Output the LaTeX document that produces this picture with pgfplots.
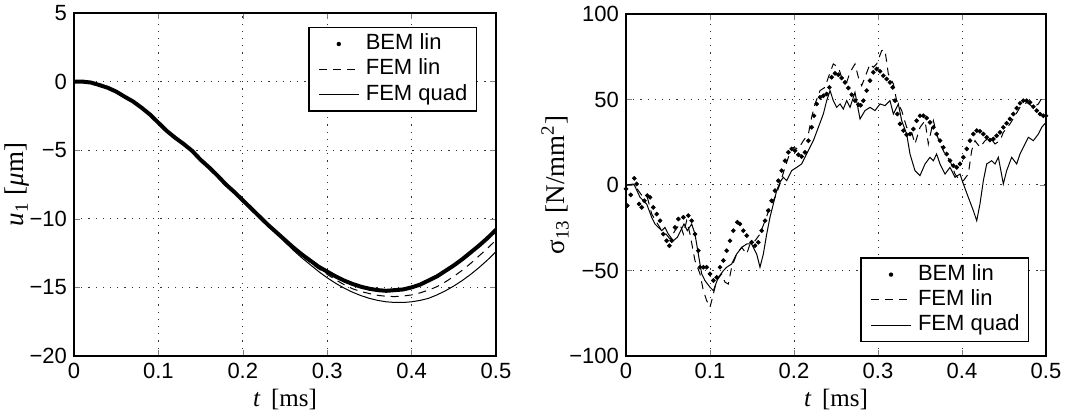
\documentclass[border=0pt]{standalone}
\usepackage{fontspec}
\setmainfont{Liberation Serif}
\setsansfont{Liberation Sans}
\usepackage{pgfplots}
\pgfplotsset{compat=1.18}

\pgfplotsset{
  mystyle/.style={
    scale only axis,
    width=211pt, height=171.5pt,
    xmin=0, xmax=0.5,
    xtick={0,0.1,0.2,0.3,0.4,0.5},
    xticklabels={0,0.1,0.2,0.3,0.4,0.5},
    tick align=inside,
    major tick length=3pt,
    axis line style={line width=0.7pt},
    grid=major,
    grid style={black!80, line width=0.5pt, dash pattern=on 0.6pt off 3pt},
    ticklabel style={font=\sffamily\fontsize{11}{12}\selectfont},
    xlabel style={font=\fontsize{12.5}{14}\selectfont},
    ylabel style={font=\fontsize{13.5}{15}\selectfont},
    xlabel={\textit{t}\, [ms]},
    xlabel style={at={(axis description cs:0.5,0)}, anchor=center, yshift=-22pt},
    legend style={font=\sffamily\fontsize{11}{12}\selectfont,
      draw=black, line width=0.7pt, inner xsep=3pt, inner ysep=2pt,
      nodes={inner sep=1.5pt, text height=7.6pt, text depth=2pt},
      /tikz/every even column/.append style={column sep=0pt},
      cells={anchor=west}},
  },
  dotleg/.style={legend image code/.code={
      \path[draw=none] (0pt,0pt) (24pt,0pt);
      \fill[black, draw=none] (12pt,0pt) circle (1.1pt);}},
  lineleg/.style={legend image code/.code={
      \draw[##1] (2pt,0pt) -- (22pt,0pt);}},
}

\begin{document}
\begin{tikzpicture}
\begin{axis}[mystyle,
  at={(0pt,0pt)}, anchor=south west,
  ymin=-20, ymax=5,
  ytick={-20,-15,-10,-5,0,5},
  yticklabels={−20,−15,−10,−5,0,5},
  ylabel={\textit{u}\textsubscript{1} [\textit{μ}m]},
  ylabel style={at={(axis description cs:0,0.5)}, anchor=center, yshift=28.5pt},
  legend style={at={(axis description cs:0.955,0.96)}, anchor=north east},
]
% BEM lin (dense dots, drawn as a thick line)
\addplot[black, line width=2pt, dotleg] coordinates {
(0,0) (0.01,0) (0.02,-0.07) (0.03,-0.25) (0.04,-0.45) (0.05,-0.73)
(0.06,-1.1) (0.07,-1.45) (0.08,-1.9) (0.09,-2.4) (0.10,-3.0)
(0.11,-3.6) (0.12,-4.1) (0.13,-4.55) (0.14,-5.05) (0.15,-5.7)
(0.16,-6.25) (0.17,-6.85) (0.18,-7.5) (0.19,-8.05) (0.20,-8.65)
(0.21,-9.25) (0.22,-9.85) (0.23,-10.45) (0.24,-11.0) (0.25,-11.55)
(0.26,-12.1) (0.27,-12.6) (0.28,-13.05) (0.29,-13.5) (0.30,-13.85)
(0.31,-14.2) (0.32,-14.5) (0.33,-14.75) (0.34,-14.95) (0.35,-15.1)
(0.36,-15.2) (0.37,-15.25) (0.38,-15.2) (0.39,-15.15) (0.40,-15.0)
(0.41,-14.8) (0.42,-14.5) (0.43,-14.2) (0.44,-13.8) (0.45,-13.4)
(0.46,-12.95) (0.47,-12.45) (0.48,-11.95) (0.49,-11.4) (0.50,-10.8)
};
\addlegendentry{BEM lin}
% FEM lin
\addplot[black, line width=0.5pt, dash pattern=on 4pt off 3pt, lineleg] coordinates {
(0,0) (0.02,-0.07) (0.04,-0.45) (0.06,-1.1) (0.08,-1.9) (0.10,-3.0)
(0.12,-4.1) (0.14,-5.05) (0.16,-6.25) (0.18,-7.5) (0.20,-8.65)
(0.22,-9.85) (0.24,-11.02) (0.25,-11.6) (0.26,-12.2) (0.27,-12.7)
(0.28,-13.2) (0.29,-13.65) (0.30,-14.05) (0.31,-14.45) (0.32,-14.8)
(0.33,-15.1) (0.34,-15.3) (0.35,-15.45) (0.36,-15.58) (0.37,-15.65)
(0.38,-15.67) (0.39,-15.63) (0.40,-15.55) (0.41,-15.4) (0.42,-15.2)
(0.43,-14.95) (0.44,-14.6) (0.45,-14.2) (0.46,-13.75) (0.47,-13.25)
(0.48,-12.7) (0.49,-12.15) (0.50,-11.55)
};
\addlegendentry{FEM lin}
% FEM quad
\addplot[black, line width=0.5pt, lineleg] coordinates {
(0,0) (0.02,-0.07) (0.04,-0.45) (0.06,-1.1) (0.08,-1.9) (0.10,-3.0)
(0.12,-4.1) (0.14,-5.05) (0.16,-6.25) (0.18,-7.5) (0.20,-8.65)
(0.22,-9.85) (0.24,-11.05) (0.25,-11.7) (0.26,-12.3) (0.27,-12.85)
(0.28,-13.35) (0.29,-13.85) (0.30,-14.3) (0.31,-14.7) (0.32,-15.05)
(0.33,-15.35) (0.34,-15.6) (0.35,-15.8) (0.36,-15.95) (0.37,-16.05)
(0.38,-16.1) (0.39,-16.1) (0.40,-16.05) (0.41,-15.95) (0.42,-15.8)
(0.43,-15.55) (0.44,-15.25) (0.45,-14.9) (0.46,-14.5) (0.47,-14.05)
(0.48,-13.55) (0.49,-13.0) (0.50,-12.4)
};
\addlegendentry{FEM quad}
\end{axis}

\begin{axis}[mystyle,
  at={(276pt,0pt)}, anchor=south west,
  width=210pt, height=171pt,
  ymin=-100, ymax=100,
  ytick={-100,-50,0,50,100},
  yticklabels={−100,−50,0,50,100},
  ylabel={σ\textsubscript{13} [N/mm\textsuperscript{2}]},
  ylabel style={at={(axis description cs:0,0.5)}, anchor=center, yshift=35.5pt},
  legend style={at={(axis description cs:0.96,0.04)}, anchor=south east},
]
% BEM lin
\addplot[black, only marks, mark=*, mark size=0.95pt, dotleg] coordinates {
(0,-2.3) (0.0016,-12.1) (0.0056,-5.8) (0.0099,3.9) (0.0127,0.6)
(0.0155,-11.1) (0.0187,-13.1) (0.0218,-9.2) (0.0254,-6.2) (0.0286,-7.2)
(0.0325,-13.1) (0.0365,-17.0) (0.0405,-20.9) (0.0444,-28.7) (0.0484,-32.6)
(0.0516,-35.5) (0.0544,-32.6) (0.0583,-24.8) (0.0623,-19.9) (0.0683,-18.9)
(0.0742,-17.9) (0.0782,-20.9) (0.0821,-28.7) (0.0861,-38.4) (0.0881,-48.1)
(0.0921,-48.1) (0.0960,-48.1) (0.1000,-52.0) (0.1040,-55.9) (0.1079,-54.0)
(0.1119,-48.1) (0.1159,-44.2) (0.1198,-38.4) (0.1238,-32.6) (0.1278,-26.7)
(0.1325,-21.8) (0.1357,-22.8) (0.1397,-26.7) (0.1437,-29.6) (0.1496,-33.5)
(0.1536,-35.5) (0.1575,-33.5) (0.1615,-26.7) (0.1655,-20.9) (0.1694,-15.0)
(0.1734,-9.2) (0.1774,-3.3) (0.1813,2.5) (0.1853,8.4) (0.1893,14.2)
(0.1933,19.1) (0.1972,21.1) (0.2012,20.1) (0.2052,17.7) (0.2091,16.6)
(0.2131,19.1) (0.2171,25.9) (0.2210,33.7) (0.2238,40.5) (0.2270,47.4)
(0.2310,51.3) (0.2349,52.2) (0.2389,53.2) (0.2421,57.1) (0.2448,63.0)
(0.2488,65.3) (0.2528,64.5) (0.2567,62.6) (0.2607,60.0) (0.2647,56.7)
(0.2687,52.8) (0.2726,49.3) (0.2766,47.0) (0.2794,46.6) (0.2825,49.3)
(0.2865,55.2) (0.2905,61.0) (0.2944,65.9) (0.2984,67.8) (0.3024,66.5)
(0.3063,63.9) (0.3103,62.0) (0.3143,60.0) (0.3175,57.1) (0.3202,49.3)
(0.3230,41.5) (0.3262,35.7) (0.3302,31.8) (0.3341,29.4) (0.3381,29.8)
(0.3421,32.7) (0.3460,37.6) (0.3500,40.5) (0.3540,40.5) (0.3579,39.2)
(0.3619,36.6) (0.3659,33.7) (0.3698,29.8) (0.3738,25.9) (0.3778,22.0)
(0.3817,18.1) (0.3857,14.2) (0.3897,11.3) (0.3937,10.3) (0.3976,12.3)
(0.4016,16.2) (0.4056,21.1) (0.4095,25.9) (0.4135,29.8) (0.4175,31.8)
(0.4214,31.4) (0.4254,29.8) (0.4294,27.9) (0.4333,26.3) (0.4373,26.9)
(0.4413,28.8) (0.4452,30.8) (0.4492,33.7) (0.4532,36.1) (0.4571,38.6)
(0.4611,41.5) (0.4651,45.0) (0.4690,47.8) (0.4730,49.3) (0.4770,49.3)
(0.4810,48.3) (0.4849,45.8) (0.4889,43.5) (0.4929,41.5) (0.4968,40.5)
(0.5,40.5)
};
\addlegendentry{BEM lin}
% FEM lin
\addplot[black, line width=0.5pt, dash pattern=on 4pt off 3pt, lineleg] coordinates {
(0,0) (0.0099,0.6) (0.0147,-3.3) (0.0206,-7.2) (0.0254,-7.2) (0.0306,-17.0)
(0.0365,-21.8) (0.0425,-26.7) (0.0476,-28.7) (0.0524,-31.6) (0.0583,-26.7)
(0.0643,-22.8) (0.0683,-28.7) (0.0722,-20.9) (0.0762,-28.7) (0.0821,-44.2)
(0.0881,-52.0) (0.0921,-61.8) (0.0960,-67.6) (0.1000,-71.5) (0.1040,-63.7)
(0.1079,-55.9) (0.1139,-52.0) (0.1179,-56.9) (0.1218,-57.9) (0.1258,-48.1)
(0.1317,-40.4) (0.1377,-36.5) (0.1437,-40.4) (0.1476,-34.5) (0.1536,-32.6)
(0.1595,-28.7) (0.1655,-20.9) (0.1714,-13.1) (0.1774,-7.2) (0.1833,0.6)
(0.1893,10.3) (0.1933,16.2) (0.1992,22.0) (0.2052,21.1) (0.2111,25.9)
(0.2171,29.8) (0.2210,39.6) (0.2250,47.4) (0.2310,55.2) (0.2369,57.1)
(0.2409,63.0) (0.2468,70.8) (0.2528,68.8) (0.2567,63.0) (0.2627,60.0)
(0.2667,65.9) (0.2726,70.8) (0.2766,63.0) (0.2806,58.1) (0.2845,63.0)
(0.2905,70.8) (0.2944,68.8) (0.2984,70.8) (0.3044,78.6) (0.3083,78.9)
(0.3123,64.9) (0.3183,59.1) (0.3222,49.3) (0.3282,43.5) (0.3341,33.7)
(0.3401,30.8) (0.3440,24.0) (0.3500,33.7) (0.3560,37.6) (0.3599,24.0)
(0.3659,37.6) (0.3698,29.8) (0.3738,24.0) (0.3798,18.1) (0.3857,14.2)
(0.3917,6.4) (0.3976,2.5) (0.4016,2.5) (0.4075,6.4) (0.4115,20.1)
(0.4155,25.9) (0.4214,22.0) (0.4274,25.9) (0.4333,27.9) (0.4393,24.0)
(0.4452,25.9) (0.4492,30.8) (0.4571,35.7) (0.4631,40.5) (0.4690,45.4)
(0.4770,48.3) (0.4849,45.4) (0.4909,47.4) (0.4968,52.2) (0.5,53.2)
};
\addlegendentry{FEM lin}
% FEM quad
\addplot[black, line width=0.5pt, lineleg] coordinates {
(0,0) (0.0099,0) (0.0167,-7.2) (0.0246,-11.1) (0.0306,-18.9) (0.0345,-22.8)
(0.0385,-24.8) (0.0425,-26.7) (0.0464,-24.8) (0.0504,-28.7) (0.0563,-32.6)
(0.0611,-30.6) (0.0651,-26.7) (0.0690,-22.8) (0.0730,-26.7) (0.0782,-22.8)
(0.0821,-28.7) (0.0861,-40.4) (0.0901,-52.0) (0.0940,-55.9) (0.1000,-59.8)
(0.1040,-61.8) (0.1099,-54.0) (0.1159,-50.1) (0.1198,-48.1) (0.1258,-46.2)
(0.1317,-40.4) (0.1377,-36.5) (0.1437,-34.5) (0.1496,-34.5) (0.1556,-40.4)
(0.1595,-48.1) (0.1635,-40.4) (0.1675,-28.7) (0.1714,-18.9) (0.1754,-11.1)
(0.1794,-3.3) (0.1833,1.6) (0.1873,4.5) (0.1913,2.5) (0.1972,8.4)
(0.2032,10.3) (0.2091,12.3) (0.2131,16.2) (0.2171,20.1) (0.2230,25.9)
(0.2290,33.7) (0.2349,41.5) (0.2389,49.3) (0.2429,55.2) (0.2468,49.3)
(0.2508,45.4) (0.2548,47.4) (0.2587,44.4) (0.2627,49.3) (0.2667,45.4)
(0.2726,54.2) (0.2786,38.6) (0.2845,43.5) (0.2905,45.4) (0.2964,43.5)
(0.3024,47.4) (0.3083,46.4) (0.3143,49.3) (0.3183,41.5) (0.3242,47.4)
(0.3282,37.6) (0.3341,29.8) (0.3381,18.1) (0.3440,8.4) (0.3500,5.5)
(0.3560,12.3) (0.3619,16.2) (0.3659,14.2) (0.3698,18.1) (0.3738,12.3)
(0.3798,6.4) (0.3857,10.3) (0.3917,4.5) (0.3976,6.4) (0.4016,0.6)
(0.4075,-7.2) (0.4135,-15.0) (0.4175,-20.9) (0.4214,-11.1) (0.4254,2.5)
(0.4294,12.3) (0.4353,14.2) (0.4393,12.3) (0.4433,16.2) (0.4492,0.6)
(0.4532,8.4) (0.4591,16.2) (0.4651,12.3) (0.4690,18.1) (0.4750,24.0)
(0.4790,27.9) (0.4849,25.9) (0.4909,29.8) (0.4948,33.7) (0.5,36.6)
};
\addlegendentry{FEM quad}
\end{axis}

\pgfresetboundingbox
\path (-37pt,-29.5pt) rectangle (503.5pt,178pt);
\end{tikzpicture}
\end{document}
